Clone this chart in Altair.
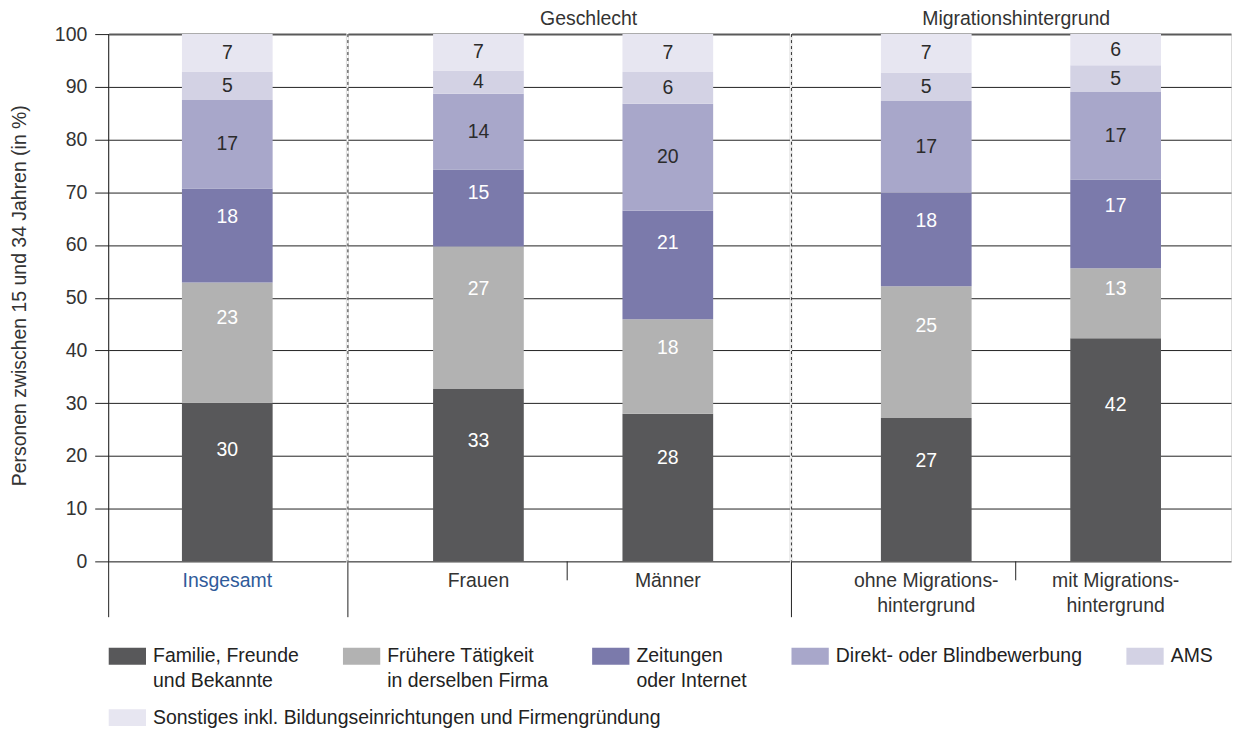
import altair as alt
import pandas as pd

FONT = "Liberation Sans"
FS = 19.5
TXT = "#333333"

series = [
    "Familie, Freunde|und Bekannte",
    "Frühere Tätigkeit|in derselben Firma",
    "Zeitungen|oder Internet",
    "Direkt- oder Blindbewerbung",
    "AMS",
    "Sonstiges inkl. Bildungseinrichtungen  und Firmengründung",
]
colors = ["#58585a", "#b2b2b2", "#7b7aab", "#a8a7ca", "#d3d2e4", "#e7e6f1"]

cats_total = ["Insgesamt"]
cats_gender = ["Frauen", "Männer"]
cats_migr = ["ohne Migrations-|hintergrund", "mit Migrations-|hintergrund"]
group_titles = [" ", "Geschlecht", "Migrationshintergrund"]

insgesamt = [30.1, 22.8, 17.8, 16.8, 5.4, 7.1]
frauen = [32.7, 27.0, 14.6, 14.4, 4.4, 6.9]
maenner = [28.0, 17.9, 20.6, 20.3, 6.0, 7.2]
ohne = [27.2, 25.0, 17.7, 17.4, 5.4, 7.3]
mit = [42.3, 13.3, 16.8, 16.6, 5.1, 5.9]

values = {
    "Insgesamt": insgesamt,
    "Frauen": frauen,
    "Männer": maenner,
    cats_migr[0]: ohne,
    cats_migr[1]: mit,
}

rows = []
for cat, vals in values.items():
    for i, (s, v) in enumerate(zip(series, vals)):
        rows.append({"cat": cat, "series": s, "idx": i, "value": v})
df = pd.DataFrame(rows)

H = 529
y_title = "Personen zwischen 15 und 34 Jahren (in %)"

grid_color = alt.condition("datum.value === 100", alt.value("#5a5a5a"), alt.value("#222222"))
grid_width = alt.condition("datum.value === 100", alt.value(2), alt.value(1))

SYMBOL = "M-2.2,0.06H2.2V2.06H-2.2Z"
legend_common = dict(
    title=None, orient="none", direction="horizontal", columnPadding=44,
    symbolType=SYMBOL, symbolSize=289, symbolStrokeWidth=0,
    symbolOpacity=1, labelFontSize=FS, labelFont=FONT, labelColor="#222222",
    labelLimit=0, labelOffset=16, labelBaseline="top", padding=0,
)
color = alt.Color(
    "series:N", scale=alt.Scale(domain=series[:5], range=colors[:5]),
    legend=alt.Legend(
        legendX=9, legendY=605, columns=5,
        labelExpr="split(datum.label, '|').length > 1 ? split(datum.label, '|') : [datum.label, ' ']",
        **legend_common,
    ),
)
fill = alt.Fill(
    "series:N", scale=alt.Scale(domain=series[5:], range=colors[5:]),
    legend=alt.Legend(legendX=9, legendY=667, **legend_common),
)


def panel(cats, width, title, dx, po, align, tick_x, first):
    d = df[df["cat"].isin(cats)]
    xaxis = alt.Axis(
        title=None, labelExpr="split(datum.label, '|')", labelAngle=0, ticks=False,
        domain=False, labelPadding=10, labelFontSize=FS, labelFont=FONT, labelLimit=0,
        labelColor="#2f5b9a" if first else TXT, labelBaseline="top",
    )
    x = alt.X("cat:N", sort=cats, axis=xaxis,
              scale=alt.Scale(domain=cats, paddingInner=0, paddingOuter=po, align=align))
    if first:
        yaxis = alt.Axis(
            values=list(range(0, 101, 10)), title=y_title, tickSize=14, tickColor="#222222",
            labelFontSize=FS, labelFont=FONT, labelColor=TXT, labelPadding=8, domain=False,
            grid=True, gridColor=grid_color, gridWidth=grid_width,
            titleFontSize=FS, titleFont=FONT, titleColor=TXT, titleFontWeight="normal",
            titleAngle=-90, titleX=-89, titleY=262, titleAlign="center", titleBaseline="middle",
        )
    else:
        yaxis = alt.Axis(
            values=list(range(0, 101, 10)), title=None, labels=False, ticks=False, domain=False,
            grid=True, gridColor=grid_color, gridWidth=grid_width,
        )
    yscale = alt.Scale(domain=[0, 100], nice=False)
    stacked = alt.Chart(d).transform_stack(
        stack="value", groupby=["cat"], as_=["y0", "y1"],
        sort=[alt.SortField("idx", order="ascending")],
    )
    bars_main = stacked.transform_filter("datum.idx < 5").mark_bar(width=91).encode(
        x=x,
        y=alt.Y("y0:Q", scale=yscale, axis=yaxis),
        y2="y1:Q",
        color=color,
    )
    bars_other = stacked.transform_filter("datum.idx == 5").mark_bar(width=91).encode(
        x=x,
        y=alt.Y("y0:Q", scale=yscale, axis=yaxis),
        y2="y1:Q",
        fill=fill,
    )
    texts = stacked.transform_calculate(
        ypos="datum.y0 + (datum.y1 - datum.y0) * (datum.idx < 3 ? 0.7 : 0.5)"
    ).mark_text(fontSize=FS, font=FONT, baseline="middle", align="center").encode(
        x=x,
        y=alt.Y("ypos:Q", scale=yscale, axis=yaxis),
        text=alt.Text("value:Q", format=".0f"),
        color=alt.condition("datum.idx < 3", alt.value("white"), alt.value("#2b2b2b")),
    )
    one = pd.DataFrame({"k": [0]})
    layers = [bars_main, bars_other, texts]
    if first:
        layers.append(alt.Chart(one).mark_rule(color="#222222", strokeWidth=1).encode(
            x=alt.value(0), y=alt.value(0), y2=alt.value(H + 56)))
    else:
        layers.append(alt.Chart(one).mark_rule(color="#333333", strokeWidth=1, strokeDash=[3, 3]).encode(
            x=alt.value(0), y=alt.value(0), y2=alt.value(H)))
        layers.append(alt.Chart(one).mark_rule(color="#222222", strokeWidth=1).encode(
            x=alt.value(0), y=alt.value(H), y2=alt.value(H + 56)))
        layers.append(alt.Chart(one).mark_rule(color="#222222", strokeWidth=1).encode(
            x=alt.value(tick_x), y=alt.value(H), y2=alt.value(H + 19)))
    return alt.layer(*layers).properties(
        width=width, height=H,
        title=alt.TitleParams(title, fontSize=FS, font=FONT, color=TXT, fontWeight="normal",
                              anchor="middle", offset=4, dx=dx),
    )


p1 = panel(cats_total, 238, group_titles[0], 0, 0.5, 0.5, 0, True)
p2 = panel(cats_gender, 443, group_titles[1], 20, 0.1658, 0.571, 220, False)
p3 = panel(cats_migr, 441, group_titles[2], 5, 0.1605, 0.66, 225, False)

chart = alt.hconcat(p1, p2, p3, spacing=0).resolve_scale(x="independent").properties(
    padding={"left": 1, "top": -10, "right": 0, "bottom": 0},
    background="white",
).configure_view(strokeWidth=0).configure(style={"guide-label": {"lineHeight": 25}})

chart.save("out.html", embed_options={"renderer": "svg", "actions": False})
